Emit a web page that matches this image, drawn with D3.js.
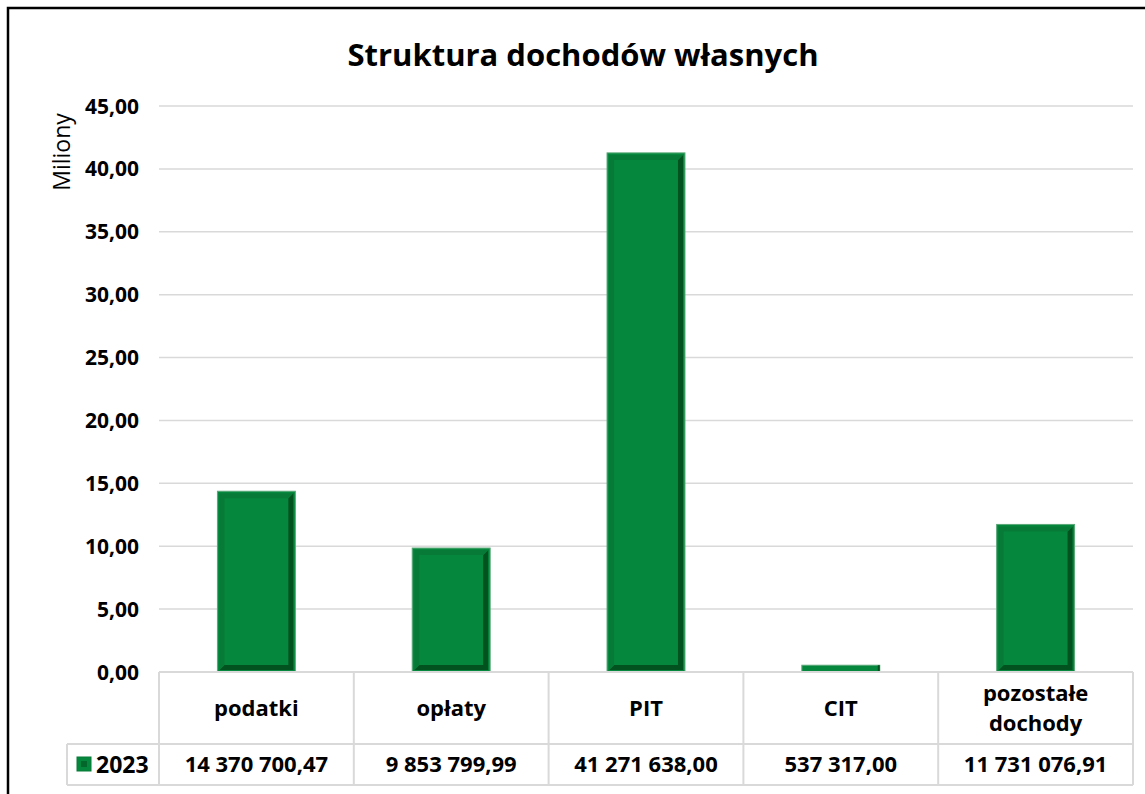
<!DOCTYPE html>
<html>
<head>
<meta charset="utf-8">
<script src="https://cdn.jsdelivr.net/npm/d3@7"></script>
<style>
  body { margin: 0; background: #fff; }
  svg { display: block; font-family: "Open Sans", sans-serif; }
</style>
</head>
<body>
<div id="chart"></div>
<script>
// data
var categories = ['podatki', 'opłaty', 'PIT', 'CIT', 'pozostałe dochody'];
var values = [14370700.47, 9853799.99, 41271638.00, 537317.00, 11731076.91];
var valueLabels = ['14 370 700,47', '9 853 799,99', '41 271 638,00', '537 317,00', '11 731 076,91'];
var yTicks = [0, 5, 10, 15, 20, 25, 30, 35, 40, 45];
var seriesName = '2023';

var width = 1145, height = 794;
var margin = {top: 106, right: 12, bottom: 122, left: 159};
var plotW = width - margin.left - margin.right;
var plotH = height - margin.top - margin.bottom;

var x = d3.scaleBand().domain(categories).range([0, plotW]).paddingInner(0).paddingOuter(0);
var y = d3.scaleLinear().domain([0, 45]).range([plotH, 0]);

var fmt = d => d3.format('.2f')(d).replace('.', ',');

function drawChart() {
  const svg = d3.select('#chart').append('svg')
      .attr('width', width)
      .attr('height', height);

  // outer frame (cut off at right and bottom)
  svg.append('rect')
      .attr('x', 8).attr('y', 8)
      .attr('width', width + 10).attr('height', height + 10)
      .attr('fill', 'none').attr('stroke', '#000').attr('stroke-width', 2.5);

  svg.append('text')
      .attr('x', 583).attr('y', 66)
      .attr('text-anchor', 'middle')
      .style('font-size', '31px').style('font-weight', 'bold')
      .text('Struktura dochodów własnych');

  svg.append('text')
      .attr('transform', 'translate(70,152) rotate(-90)')
      .attr('text-anchor', 'middle')
      .style('font-size', '23px')
      .text('Miliony');

  const g = svg.append('g').attr('transform', `translate(${margin.left},${margin.top})`);

  // gridlines
  g.append('g').selectAll('line')
    .data(yTicks.filter(d => d > 0))
    .join('line')
      .attr('x1', 0).attr('x2', plotW)
      .attr('y1', d => y(d)).attr('y2', d => y(d))
      .attr('stroke', '#d9d9d9').attr('stroke-width', 1.5);

  // y axis labels
  g.append('g').selectAll('text')
    .data(yTicks)
    .join('text')
      .attr('x', -20).attr('y', d => y(d))
      .attr('dy', '0.36em')
      .attr('text-anchor', 'end')
      .style('font-size', '21px').style('font-weight', 'bold')
      .text(fmt);

  // bars
  const bw = x.bandwidth() * 0.4;
  const bars = g.append('g').selectAll('g')
    .data(values.map((v, i) => ({cat: categories[i], v: v / 1e6})))
    .join('g')
      .attr('transform', d => `translate(${x(d.cat) + (x.bandwidth() - bw) / 2},${y(d.v)})`);

  bars.append('rect')
      .attr('width', bw)
      .attr('height', d => plotH - y(d.v))
      .attr('fill', '#05883d')
      .attr('stroke', '#5aa877').attr('stroke-width', 1);

  // bevel: dark right and bottom, slightly dark top and left
  bars.filter(d => plotH - y(d.v) > 12).each(function(d) {
    const h = plotH - y(d.v);
    const b = d3.select(this);
    const i = 2, t = 5;
    b.append('path')
        .attr('d', `M${bw - i},${i} L${bw - i},${h - i} L${i},${h - i} L${i + t},${h - i - t} L${bw - i - t},${h - i - t} L${bw - i - t},${i + t} Z`)
        .attr('fill', '#01521f');
    b.append('path')
        .attr('d', `M${i},${h - i} L${i},${i} L${bw - i},${i} L${bw - i - t},${i + t} L${i + t},${i + t} L${i + t},${h - i - t} Z`)
        .attr('fill', '#077a37');
  });
  bars.filter(d => plotH - y(d.v) <= 12)
    .append('rect')
      .attr('x', bw - 2).attr('width', 2)
      .attr('height', d => plotH - y(d.v))
      .attr('fill', '#01521f');

  // data table
  const rowH1 = 72, rowH2 = 41, keyX = -92;
  const t = g.append('g').attr('transform', `translate(0,${plotH})`);
  const line = (x1, y1, x2, y2) => t.append('line')
      .attr('x1', x1).attr('y1', y1).attr('x2', x2).attr('y2', y2)
      .attr('stroke', '#d9d9d9').attr('stroke-width', 2);

  line(0, 0, plotW, 0);
  line(keyX, rowH1, plotW, rowH1);
  line(keyX, rowH1 + rowH2, plotW, rowH1 + rowH2);
  line(keyX, rowH1, keyX, rowH1 + rowH2);
  [0].concat(categories.map(c => x(c) + x.bandwidth())).forEach(xx => line(xx, 0, xx, rowH1 + rowH2));

  t.append('g').selectAll('text')
    .data(categories)
    .join('text')
      .attr('x', d => x(d) + x.bandwidth() / 2)
      .attr('y', rowH1 / 2)
      .attr('text-anchor', 'middle')
      .style('font-size', '22px').style('font-weight', 'bold')
      .each(function(d) {
        const words = d.split(' ');
        const el = d3.select(this);
        words.forEach((w, k) => {
          el.append('tspan')
              .attr('x', x(d) + x.bandwidth() / 2)
              .attr('dy', k === 0 ? (0.35 - (words.length - 1) * 0.68) + 'em' : '1.36em')
              .text(w);
        });
      });

  t.append('g').selectAll('text')
    .data(valueLabels)
    .join('text')
      .attr('x', (d, i) => x(categories[i]) + x.bandwidth() / 2)
      .attr('y', rowH1 + rowH2 / 2)
      .attr('dy', '0.35em')
      .attr('text-anchor', 'middle')
      .style('font-size', '22px').style('font-weight', 'bold')
      .text(d => d);

  // legend key
  const key = t.append('g').attr('transform', `translate(${keyX + 10},${rowH1 + 13})`);
  key.append('rect').attr('width', 14).attr('height', 14).attr('fill', '#05883d').attr('stroke', '#077a37');
  key.append('rect').attr('x', 4).attr('y', 4).attr('width', 6).attr('height', 6).attr('fill', '#01521f').attr('opacity', 0.6);
  t.append('text')
      .attr('x', keyX + 29).attr('y', rowH1 + rowH2 / 2)
      .attr('dy', '0.35em')
      .style('font-size', '23px').style('font-weight', 'bold')
      .text(seriesName);

  return svg.node();
}

drawChart();
</script>
</body>
</html>
